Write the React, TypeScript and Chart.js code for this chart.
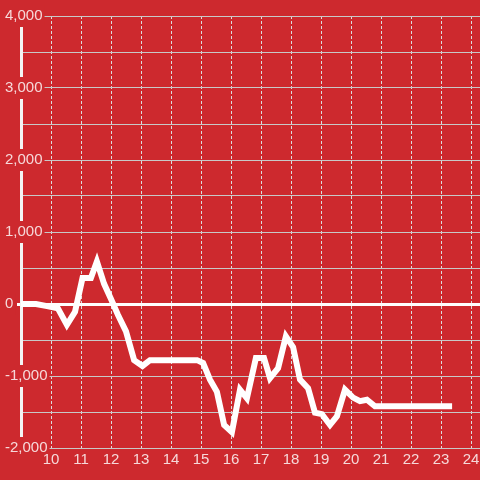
import React, { useEffect, useRef } from 'react';
import { Chart, registerables } from 'chart.js';

Chart.register(...registerables);

// Time of day (hours) and running value
const TIMES = [
  9.0, 9.5, 9.87, 10.23, 10.53, 10.8, 11.05, 11.33, 11.53, 11.77, 12.0, 12.23,
  12.5, 12.77, 13.05, 13.3, 14.87, 15.07, 15.3, 15.53, 15.77, 16.03, 16.3, 16.53,
  16.83, 17.1, 17.3, 17.57, 17.83, 18.07, 18.3, 18.57, 18.8, 19.03, 19.3, 19.53,
  19.8, 20.07, 20.3, 20.53, 20.8, 23.37,
];
const VALUES = [
  0, 0, -30, -60, -290, -110, 360, 360, 590, 280, 70, -150,
  -380, -780, -860, -780, -780, -820, -1050, -1220, -1680, -1780, -1190, -1310,
  -750, -750, -1030, -890, -450, -600, -1050, -1170, -1510, -1530, -1680, -1560,
  -1190, -1300, -1350, -1330, -1420, -1420,
];
const X_TICKS = [10, 11, 12, 13, 14, 15, 16, 17, 18, 19, 20, 21, 22, 23, 24];
const X_MIN = 9;
const X_MAX = 24.3;
const Y_MIN = -2000;
const Y_MAX = 4000;
const Y_STEP = 500;
const Y_LABEL_STEP = 1000;

const BG = '#cd292e';
const TEXT = 'rgba(255,255,255,0.82)';
const FONT = { family: "'Liberation Sans', Arial, sans-serif", size: 15 };

export default function App() {
  const ref = useRef<HTMLCanvasElement>(null);

  useEffect(() => {
    if (!ref.current) return;
    const chart = new Chart(ref.current, {
      type: 'line',
      data: {
        datasets: [
          {
            data: TIMES.map((t, i) => ({ x: t, y: VALUES[i] })),
            borderColor: '#ffffff',
            borderWidth: 6,
            pointRadius: 0,
            pointHoverRadius: 0,
            tension: 0,
            fill: false,
          },
        ],
      },
      options: {
        animation: false,
        responsive: false,
        maintainAspectRatio: false,
        layout: { padding: { left: 4, top: 16, right: 0, bottom: 0 } },
        plugins: { legend: { display: false }, tooltip: { enabled: false } },
        scales: {
          x: {
            type: 'linear',
            min: X_MIN,
            max: X_MAX,
            afterBuildTicks: (s: any) => {
              s.ticks = X_TICKS.map((v) => ({ value: v }));
            },
            afterFit: (s: any) => {
              s.height = 32;
              s.paddingLeft = 0;
              s.paddingRight = 0;
            },
            grid: { color: '#dcdcdc', lineWidth: 1, drawTicks: false },
            border: { display: false, dash: [3, 2] },
            ticks: {
              z: 1,
              color: TEXT,
              font: FONT,
              padding: 3,
              maxRotation: 0,
              autoSkip: false,
              callback: (v: any) => String(v),
            },
          },
          y: {
            type: 'linear',
            min: Y_MIN,
            max: Y_MAX,
            afterFit: (s: any) => {
              s.width = 17;
              s.paddingTop = 0;
              s.paddingBottom = 0;
            },
            grid: {
              color: (c: any) => (c.tick && c.tick.value === 0 ? '#ffffff' : '#c8c8c8'),
              lineWidth: (c: any) => (c.tick && c.tick.value === 0 ? 3 : 1),
              drawTicks: true,
              tickLength: 4,
              tickWidth: 3,
              tickColor: (c: any) => (c.tick && c.tick.value === 0 ? '#ffffff' : 'rgba(0,0,0,0)'),
            },
            border: { display: true, color: '#f4f4f4', width: 3 },
            ticks: {
              stepSize: Y_STEP,
              color: TEXT,
              font: FONT,
              mirror: true,
              crossAlign: 'near',
              padding: -16,
              showLabelBackdrop: true,
              backdropColor: BG,
              backdropPadding: 2,
              callback: (v: any) =>
                Number(v) % Y_LABEL_STEP === 0 ? Number(v).toLocaleString('en-US') : '',
            },
          },
        },
      } as any,
    });
    return () => chart.destroy();
  }, []);

  return (
    <div style={{ position: 'fixed', left: 0, top: 0, width: 480, height: 480, background: BG }}>
      <canvas ref={ref} width={480} height={480} style={{ display: 'block', width: 480, height: 480 }} />
    </div>
  );
}
